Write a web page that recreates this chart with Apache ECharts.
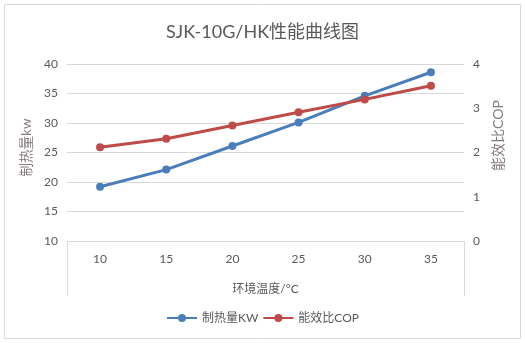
<!DOCTYPE html>
<html><head><meta charset="utf-8">
<script src="https://cdn.jsdelivr.net/npm/echarts@6/dist/echarts.min.js"></script>
<style>html,body{margin:0;padding:0;background:#fff}#c{width:525px;height:343px}</style>
</head><body><div id="c"></div>
<script>
const categories = ['10','15','20','25','30','35'];
const heatKW = [19.2, 22.1, 26.1, 30.1, 34.6, 38.6];
const cop = [2.12, 2.31, 2.61, 2.91, 3.2, 3.51];
const leftTicks = [10, 40, 5];
const rightTicks = [0, 4, 1];

const FONT = 'Lato, "Noto Sans CJK SC", sans-serif';
const chart = echarts.init(document.getElementById('c'));
chart.setOption({
  animation: false,
  backgroundColor: '#fff',
  textStyle: {fontFamily: FONT},
  title: {text: 'SJK-10G/HK性能曲线图', left: 'center', top: 18,
    textStyle: {fontSize: 18, fontWeight: 'normal', color: '#595959', fontFamily: FONT}},
  legend: {bottom: 14, left: 'center', itemWidth: 30, itemHeight: 10, itemGap: 4,
    textStyle: {color: '#595959', fontSize: 12, fontFamily: FONT},
    data: ['制热量KW', '能效比COP']},
  grid: {left: 67, right: 61, top: 64, bottom: 102},
  graphic: [
    {type: 'rect', shape: {x: 4.5, y: 4.5, width: 516, height: 334}, style: {fill: 'none', stroke: '#d9d9d9', lineWidth: 1}, silent: true},
    {type: 'line', shape: {x1: 67.5, y1: 241, x2: 67.5, y2: 296}, style: {stroke: '#d9d9d9', lineWidth: 1}, silent: true},
    {type: 'line', shape: {x1: 464.5, y1: 241, x2: 464.5, y2: 296}, style: {stroke: '#d9d9d9', lineWidth: 1}, silent: true}
  ],
  xAxis: {type: 'category', data: categories, boundaryGap: true,
    name: '环境温度/°C', nameLocation: 'middle', nameGap: 42,
    nameTextStyle: {color: '#595959', fontSize: 12},
    axisLine: {lineStyle: {color: '#d9d9d9'}}, axisTick: {show: false},
    axisLabel: {color: '#595959', fontSize: 12, margin: 12}},
  yAxis: [
    {type: 'value', min: leftTicks[0], max: leftTicks[1], interval: leftTicks[2],
      name: '制热量kw', nameLocation: 'middle', nameGap: 30, nameRotate: 90,
      nameTextStyle: {color: '#857a7a', fontSize: 13.5, padding: [0, 0, 0, 10]},
      axisLine: {show: false}, axisTick: {show: false},
      axisLabel: {color: '#595959', fontSize: 12, margin: 9},
      splitLine: {lineStyle: {color: '#d9d9d9'}}},
    {type: 'value', min: rightTicks[0], max: rightTicks[1], interval: rightTicks[2],
      name: '能效比COP', nameLocation: 'middle', nameGap: 27, nameRotate: 90,
      nameTextStyle: {color: '#857a7a', fontSize: 14, padding: [0, 0, 0, 34]},
      axisLine: {show: false}, axisTick: {show: false},
      axisLabel: {color: '#595959', fontSize: 12, margin: 9},
      splitLine: {show: false}}
  ],
  series: [
    {name: '制热量KW', type: 'line', yAxisIndex: 0, data: heatKW,
      symbol: 'circle', symbolSize: 8, color: '#4a7ebb',
      lineStyle: {width: 3, color: '#4a7ebb'}, itemStyle: {color: '#4a7ebb'}},
    {name: '能效比COP', type: 'line', yAxisIndex: 1, data: cop,
      symbol: 'circle', symbolSize: 8, color: '#be4b48',
      lineStyle: {width: 3, color: '#be4b48'}, itemStyle: {color: '#be4b48'}}
  ]
});
</script></body></html>
